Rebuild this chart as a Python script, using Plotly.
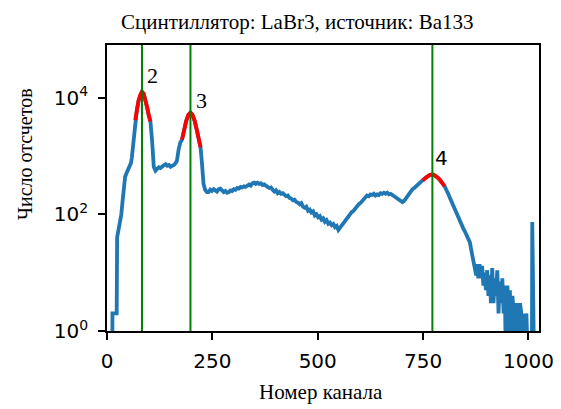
import math
import plotly.graph_objects as go

# ---- data ----
channels = [0, 4, 8, 12, 13, 17, 21, 23, 24, 27, 30, 34, 37, 40, 43, 47, 51, 55, 57, 59, 61, 63, 65,
            67, 71, 75, 79, 83, 87, 91, 95, 99, 103, 107, 111, 115, 119, 123, 127, 131, 135, 139, 143,
            147, 151, 155, 159, 163, 166, 170, 174, 178, 183, 188, 193, 198, 203, 208, 213, 218, 222,
            225, 229, 233, 237,
            241, 245, 249, 253, 257, 261, 265, 269, 273, 277, 281, 285, 289, 293, 297, 301, 305, 309,
            313, 317, 321, 325, 329, 333, 337, 341, 345, 349, 353, 357, 361, 365, 369, 373, 377, 381,
            385, 389, 393, 397, 401, 405, 409, 413, 417, 421, 425, 429, 433, 437, 441, 445, 449, 453,
            457, 461, 465, 469, 473, 477, 481, 485, 489, 493, 497, 501, 505, 509, 513, 517, 521, 525,
            529, 533, 537, 541, 545, 549, 553, 557, 561, 565, 569, 573, 577, 581, 585, 589, 593, 597,
            601, 605, 609, 613, 617, 621, 625, 629, 633, 637, 641, 645, 649, 653, 657, 661, 665, 669,
            673, 677, 681, 685, 689, 693, 697, 701, 705, 709, 713, 717, 721, 725, 729, 733, 737, 741,
            745, 749, 753, 757, 761, 765, 769, 773, 777, 781, 785, 789, 793, 797, 801, 805, 809, 813,
            817, 821, 825, 829, 833, 837, 841, 845, 849, 853, 857, 861, 864, 867, 870,
            874, 876, 878, 881, 884, 887, 890, 893, 896, 899, 902, 905, 908, 911, 914, 917, 920, 923,
            926, 929, 932, 935, 938, 941, 944, 947, 950, 953, 956, 959, 962, 965, 968, 971, 974, 977,
            980, 983, 986, 989, 992, 995, 998, 1001, 1005, 1008, 1009, 1010, 1014, 1018, 1023]

counts = [0, 0, 0, 0, 2, 2, 2, 2, 40, 52, 68, 100, 170, 280, 440, 520, 600, 680, 760, 950, 1300, 1900, 2800,
          4100, 6300, 8900, 11200, 12600, 11700, 9300, 6900, 5000, 3900, 1800, 650, 560, 600, 640, 620, 670,
          690, 720, 680, 700, 650, 680, 700, 760, 830, 1300, 1700, 1900, 2800, 4000, 5000, 5500, 5000, 4000,
          2800, 1900, 1400, 800, 330, 260, 240,
          240, 263, 251, 269, 257, 245, 269, 275, 257, 240, 251, 234, 240, 257, 251, 269, 263, 282,
          275, 295, 288, 302, 295, 316, 324, 309, 339, 347, 331, 347, 331, 339, 316, 324, 302, 295,
          282, 288, 263, 245, 257, 229, 240, 224, 229, 214, 204, 209, 191, 186, 174, 178, 162, 158,
          148, 155, 135, 129, 135, 115, 120, 107, 112, 95, 100, 89, 93, 81, 85, 74, 79, 69,
          72, 65, 68, 60, 63, 54, 59, 63, 72, 79, 85, 93, 100, 110, 115, 126, 132, 148,
          155, 166, 186, 195, 209, 204, 219, 214, 224, 209, 219, 214, 229, 224, 234, 224, 234, 219,
          224, 214, 204, 200, 191, 182, 174, 162, 170, 186, 204, 229, 251, 269, 282, 302, 316, 339,
          355, 380, 407, 427, 447, 468, 479, 479, 468, 447, 427, 398, 363, 331, 302, 269, 229, 195,
          166, 138, 120, 102, 91, 79, 66, 58, 51, 43, 37, 33, 25, 20, 16,
          12, 9, 14, 8, 14, 8, 13, 6, 10, 5, 11, 4, 9, 3, 12, 3, 8, 4,
          11, 2, 7, 3, 8, 2, 6, 0, 6, 2, 5, 0, 4, 2, 3, 0, 3, 0,
          3, 2, 0, 2, 0, 2, 0, 0, 0, 0, 74, 0, 0, 0, 0]

peak_ranges = [(67, 103), (178, 222), (749, 801)]
peak_lines = [83, 198, 772]
peak_labels = ["2", "3", "4"]
label_pos = [(107, 23500), (224, 8900), (794, 910)]

x_ticks = [0, 250, 500, 750, 1000]
y_ticks = [1, 100, 10000]
y_ticktext = ["10<sup>0</sup>", "10<sup>2</sup>", "10<sup>4</sup>"]

title_text = "Сцинтиллятор: LaBr3, источник: Ba133"
x_title = "Номер канала"
y_title = "Число отсчетов"

# zero counts drop below the axis (like matplotlib clipping)
y_plot = [c if c > 0 else 0.1 for c in counts]

W, H = 561, 409
L_, R_, T_, B_ = 107, 22, 45, 78
pw, ph = W - L_ - R_, H - T_ - B_


def px_to_paper(px, py):
    return (px - L_) / pw, (H - py - B_) / ph


fig = go.Figure()
fig.add_trace(go.Scatter(x=channels, y=y_plot, mode="lines",
                         line=dict(color="#1f77b4", width=3.8), showlegend=False))
for lo, hi in peak_ranges:
    xs = [c for c in channels if lo <= c <= hi]
    ys = [y for c, y in zip(channels, y_plot) if lo <= c <= hi]
    fig.add_trace(go.Scatter(x=xs, y=ys, mode="lines",
                             line=dict(color="red", width=3.8), showlegend=False))

for xl in peak_lines:
    fig.add_shape(type="line", x0=xl, x1=xl, y0=0, y1=1, xref="x", yref="paper",
                  line=dict(color="green", width=2), layer="above")

for lab, (lx, ly) in zip(peak_labels, label_pos):
    fam = "DejaVu Sans" if lab == "4" else "Liberation Serif"
    size = 20 if lab == "4" else 22
    fig.add_annotation(x=lx, y=math.log10(ly), xref="x", yref="y", text=lab,
                       showarrow=False, xanchor="center", yanchor="middle",
                       font=dict(family=fam, size=size, color="black"))

# titles placed at pixel positions measured in the reference
for txt, (px, py), size, ang in [(title_text, (297, 22), 21, 0),
                                 (x_title, (321, 392), 21, 0),
                                 (y_title, (25, 154), 20, -90)]:
    ax_, ay_ = px_to_paper(px, py)
    fig.add_annotation(x=ax_, y=ay_, xref="paper", yref="paper", text=txt, showarrow=False,
                       xanchor="center", yanchor="middle", textangle=ang,
                       font=dict(family="Liberation Serif", size=size, color="black"))

axis_common = dict(showline=True, mirror=True, linecolor="black", linewidth=1.6,
                   ticks="outside", ticklen=7, tickwidth=1.6, tickcolor="black",
                   showgrid=False, zeroline=False, automargin=False,
                   tickfont=dict(family="DejaVu Sans", size=20, color="black"))

fig.update_layout(
    width=W, height=H,
    margin=dict(l=L_, r=R_, t=T_, b=B_, autoexpand=False),
    plot_bgcolor="white", paper_bgcolor="white",
    xaxis=dict(range=[0, 1025], tickvals=x_ticks, ticklabelstandoff=4, **axis_common),
    yaxis=dict(type="log", range=[0, 4.9], tickvals=y_ticks, ticktext=y_ticktext,
               ticklabelstandoff=6, **axis_common),
)

fig.write_html("out.html", config={"displayModeBar": False},
               post_script="document.body.style.margin='0';document.body.style.overflow='hidden';")
